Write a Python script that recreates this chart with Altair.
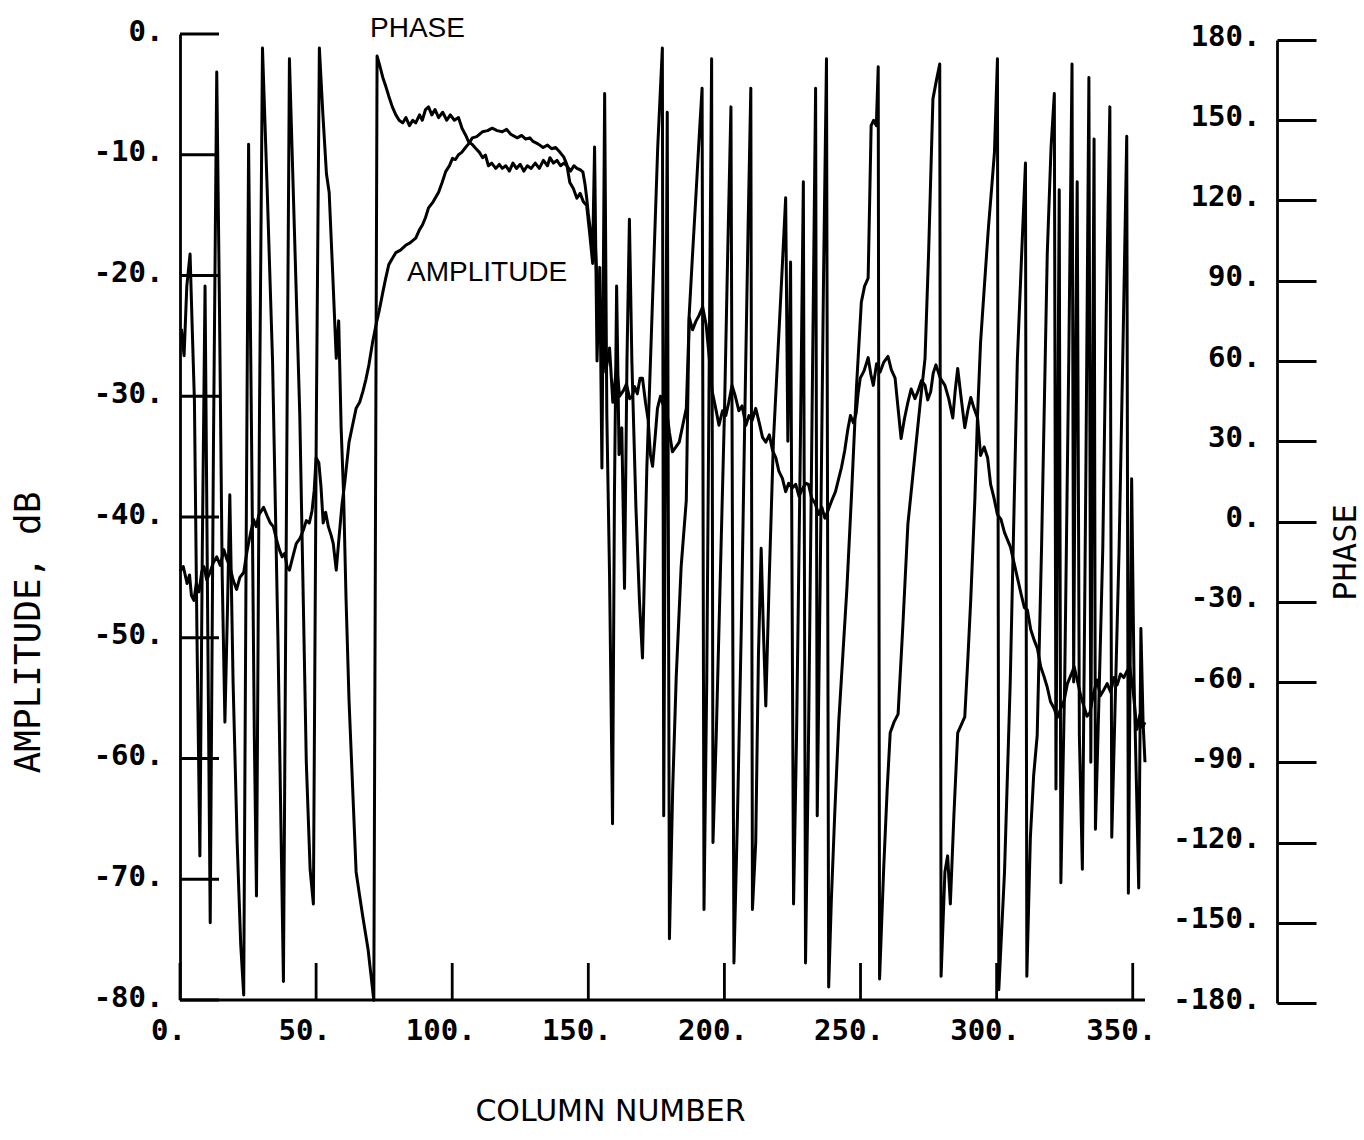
import altair as alt
import pandas as pd

# ---- amplitude trace (dB) against column number ----
amp_cols = [
    0, 1.2, 2.6, 3.5, 4.2, 5.1, 6, 7, 8, 8.8,
    9.8, 11, 12.2, 13.5, 14.8, 16.1, 17.2, 18.3, 19.5, 20.8,
    22, 23.4, 24.5, 25.5, 27, 28, 29, 30.7, 32, 33.2,
    34.3, 35.5, 36.5, 37.5, 38.5, 39.3, 40.2, 41.2, 42.7, 44,
    45.3, 46.4, 47.5, 48.5, 49.3, 50, 51, 51.8, 52.6, 53.5,
    54.5, 55.5, 56.3, 57.4, 58.5, 59.5, 60.5, 61.3, 62.1, 63.3,
    64.7, 66, 67.2, 68.3, 69.4, 70.7, 72, 73.2, 74.5, 75.5,
    76.7, 78, 79.3, 81, 82.9, 84.5, 86.6, 88, 89.1, 90.2,
    91.3, 93, 95, 96.3, 97.6, 99, 100.1, 101.2, 102.3, 103.5,
    104.9, 106, 107.4, 109, 111.1, 113, 114.7, 116.5, 118.4, 120,
    121.5, 123.9, 125.5, 127, 128.5, 129.7, 131.5, 133.4, 135, 136.5,
    138, 139.6, 141, 142.1, 143.2, 144.5, 145.8, 147, 148.2, 149.4,
    150.5, 151.6, 152.5, 153.5, 154.2, 155.3, 156.4, 157.8, 159, 160.4,
    161.5, 163, 164, 165.2, 166.2, 167, 168, 169, 169.9, 171,
    172, 172.8, 173.6, 174.5, 175.4, 176.5, 177.6, 178.7, 179.8, 180.9,
    182.2, 183.4, 184.7, 186, 187.1, 188.3, 189.5, 190.7, 192, 193.3,
    194.5, 195.5, 196.8, 198, 199.3, 200.5, 201.6, 202.8, 204, 205.3,
    206.5, 207.9, 209, 210.2, 211.5, 212.8, 214, 215.2, 216.5, 217.7,
    218.9, 220, 221.3, 222.5, 223.6, 224.9, 226.2, 227.4, 228.6, 229.8,
    230.9, 232, 233.4, 234.6, 235.8, 236.9, 238, 239.5, 240.8, 242,
    243, 244.2, 245.3, 246.3, 247.4, 248.4, 249.1, 249.9, 251.3, 252.8,
    253.8, 254.7, 255.9, 257.2, 258.5, 260.1, 261.3, 262.7, 263.8, 264.9,
    266.1, 267.4, 268.6, 270, 271.1, 272.4, 273.7, 274.7, 275.8, 276.7,
    277.7, 279.3, 281, 282.4, 283.9, 284.8, 285.7, 287, 288.3, 289.4,
    290.5, 291.7, 293, 294.1, 295.4, 296.7, 297.8, 299, 300.3, 301.6,
    302.9, 304, 305.1, 306.4, 307.6, 309, 310.2, 311.3, 312.5, 313.8,
    315, 316.2, 317.4, 318.6, 319.8, 321, 322.3, 323.5, 324.8, 326,
    327.3, 328.5, 329.7, 330.9, 332.1, 333.2, 334.3, 335.6, 336.9, 338.1,
    339.4, 340.6, 341.9, 343.1, 344.3, 345.5, 346.7, 347.8, 348.9, 350.2,
    351.5, 352.6, 353.6, 354.5,
]
amp_db = [
    -44.5, -44.1, -45.5, -44.8, -46.5, -46.9, -45.5, -46.2, -44.5, -44.1,
    -45.2, -44.6, -43.8, -43.3, -44, -42.7, -43.5, -44.1, -45.2, -46,
    -45, -44.6, -43, -41.8, -40.2, -40.8, -39.8, -39.2, -39.9, -40.5,
    -40.8, -41.9, -42.7, -43.3, -43, -44.1, -44.4, -43.5, -42.2, -41.8,
    -41.1, -40.3, -40.5, -39.5, -37.8, -35.1, -35.5, -37.5, -40.5, -39.6,
    -40.8, -41.5, -42.2, -44.4, -41.5, -39, -37.2, -35.5, -33.8, -32.5,
    -31, -30.5, -29.6, -28.6, -27.4, -25.6, -24.1, -22.9, -21.4, -20.3,
    -19.1, -18.6, -18.1, -17.9, -17.5, -17.3, -16.9, -16.2, -15.8, -15.2,
    -14.4, -13.9, -13.1, -12.3, -11.4, -10.9, -10.3, -10.4, -10, -9.8,
    -9.4, -9.1, -8.6, -8.5, -8.1, -8.0, -7.8, -8.0, -8.1, -7.9,
    -8.3, -8.6, -8.4, -8.7, -8.6, -8.9, -9.1, -9.4, -9.2, -9.5,
    -9.4, -9.8, -10.2, -10.8, -12.3, -12.8, -13.6, -13.2, -13.9, -14.2,
    -16.5, -19, -17, -22, -25, -22, -28, -26, -30.5, -27.5,
    -30, -29.5, -29, -30.2, -30, -29.2, -29.8, -28.5, -28.5, -30.5,
    -32, -34.8, -35.8, -33.5, -31, -30, -30.8, -31, -33, -34.6,
    -34.2, -33.8, -32.4, -31, -23.5, -24.5, -23.8, -23.3, -22.6, -24.1,
    -27, -29.6, -31, -32.4, -31.2, -31.6, -30.5, -29.1, -30, -31.2,
    -30.8, -32.4, -31.6, -32, -31, -32.2, -33.4, -33.8, -33.2, -34.5,
    -35.1, -36.2, -36.8, -37.9, -37.2, -37.6, -37.3, -38.3, -37.7, -37.2,
    -37.3, -38.4, -38.9, -39.8, -39.2, -40.1, -39.5, -38.6, -37.9, -36.8,
    -35.9, -34.5, -32.8, -31.6, -32.2, -31.4, -29.8, -28.5, -27.9, -26.8,
    -28.2, -29.1, -27.3, -28, -27.2, -26.7, -27.8, -28.5, -31, -33.5,
    -31.9, -30.5, -29.4, -30.2, -29.6, -28.7, -29.1, -30.3, -29.6, -28.1,
    -27.4, -28.5, -29.1, -30.2, -31.8, -29.5, -27.7, -30.2, -32.6, -31.2,
    -30.1, -31, -31.8, -34.9, -34.2, -35.1, -37.3, -38.4, -39.8, -40.2,
    -41.3, -41.9, -42.5, -43.8, -45, -46.4, -47.5, -47.7, -49.3, -50.2,
    -50.9, -52.4, -53.2, -54.1, -55.3, -55.8, -56.6, -55.9, -55.2, -53.8,
    -53.1, -52.4, -53.6, -54.8, -55.7, -56.5, -56.2, -54.6, -53.5, -54.8,
    -54.3, -53.8, -54.5, -53.3, -53.9, -53, -53.3, -52.8, -52.4, -54.5,
    -57.6, -56.4, -57.4, -57,
]

# ---- phase trace (degrees, wrapped to +/-180) against column number ----
phase_cols = [
    0.5, 1.5, 2.5, 3.7, 4.5, 5.3, 6.2, 7.3, 8.2, 9.2,
    10.2, 11.1, 12.3, 13.5, 14.5, 15.5, 16.5, 17.5, 18.3, 19.5,
    21, 22.3, 23.4, 24.3, 25.2, 26.4, 27.3, 28.1, 29.2, 30.3,
    32, 34, 36, 38, 39.2, 40.2, 42, 44, 45.3, 46.4,
    47.8, 49, 50.1, 51.2, 52.5, 53.8, 54.8, 56, 57.4, 58.3,
    59.2, 60.1, 61, 62.1, 63.6, 64.7, 66, 67.2, 69.1, 71.2,
    72.4, 73.5, 74.5, 75.5, 76.7, 78, 79.3, 80.5, 81.8, 83,
    84.3, 85.5, 86.6, 88, 89, 90.2, 91.3, 92.5, 93.7, 95,
    96.5, 98, 99.3, 100.8, 102.3, 103.6, 104.9, 106, 107.3, 108.5,
    110, 111.2, 112.2, 113.3, 114.5, 116, 117.3, 118.4, 119.7, 121,
    122.3, 123.6, 125, 126.3, 127.6, 129, 130.5, 132, 133.5, 135,
    135.9, 137.2, 138.5, 139.8, 141, 142.1, 143.5, 144.7, 145.8, 147,
    148, 148.8, 149.4, 150, 150.5, 151.6, 152.3, 153.2, 154.2, 155,
    156, 156.8, 157.8, 158.9, 159.6, 160.4, 161.3, 162.3, 163.3, 164.2,
    165.1, 166, 167.5, 168.8, 169.9, 171.5, 173.5, 175.5, 177.2, 177.7,
    178.4, 179, 179.8, 181, 182.3, 184.1, 186, 187, 188.3, 189.6,
    190.8, 191.8, 192.5, 193.5, 194.5, 195.3, 195.8, 197, 198.5, 200,
    201.2, 202.4, 203.5, 204.8, 206.2, 207.5, 208.7, 209.7, 210.3, 211.5,
    212.5, 213.5, 214.3, 215.2, 216.5, 218, 219.5, 221, 222.5, 223.3,
    224.3, 225.4, 226.5, 227.8, 229, 229.8, 230.8, 232.2, 233.5, 234.1,
    235.2, 236.4, 237.5, 238.3, 239.3, 240.5, 242, 243.5, 245, 246.6,
    248.5, 250.3, 251.5, 252.8, 253.9, 254.8, 255.8, 256.5, 257, 258.5,
    259.8, 260.9, 262.3, 263.8, 265.5, 267.4, 269, 270.5, 272, 273.7,
    275, 276.6, 277.9, 279.1, 279.6, 281, 282, 283, 284.3, 285.7,
    287, 288.3, 289.5, 290.5, 292, 293, 294.1, 295.5, 297, 298.2,
    299.2, 300.3, 300.8, 302.9, 305, 307.6, 309.2, 310.6, 311.1, 312.4,
    313.6, 314.9, 316.5, 318.6, 320, 321.2, 321.8, 322.5, 323, 323.6,
    325, 326.5, 327.7, 328.3, 329, 329.6, 330.4, 331.5, 332.8, 333.9,
    334.6, 335.2, 335.8, 336.3, 337.5, 339, 340.3, 341.6, 342.3, 343.5,
    345, 346.5, 347.8, 348.4, 349.6, 350.5, 351.4, 352.2, 353, 353.8,
    354.5,
]
phase_deg = [
    72, 62, 88, 100, 72, 45, -40, -125, -10, 88,
    -40, -150, 30, 168, 80, -20, -75, -30, 10, -60,
    -120, -158, -177, -10, 141, 20, -80, -140, 40, 177,
    125, 60, -45, -172, 20, 173, 110, 40, -30, -90,
    -130, -143, 40, 177, 152, 130, 123, 95, 61, 75,
    35, 10, -29, -67, -104, -131, -140, -148, -160, -179,
    174, 170, 166, 163, 159, 155, 152, 150, 149, 151,
    148, 150, 149, 152, 150, 154, 155, 152, 154, 151,
    153, 150, 152, 150, 151, 147, 144.5, 142, 141, 139.6,
    138, 136, 137, 133, 134, 132, 133.5, 132, 133, 131,
    134, 132, 133.5, 131, 133, 132, 134, 132, 135, 133,
    136, 134, 135, 133, 134, 133, 131, 133, 132, 131.5,
    130.7, 126, 121, 115, 111, 101, 140, 60, 95, 20,
    160, 40, -20, -113, 10, 88, 25, 35, -25, 60,
    113, 60, 5, -30, -51, 20, 80, 140, 177, -110,
    40, 153, -156, -100, -58, -17, 8, 76, 100, 123,
    145, 162, -145, -60, 70, 173, -120, -80, -20, 40,
    100, 155, -165, -110, -40, 40, 110, 162, -145, -120,
    -50, -10, -40, -69, -20, 30, 60, 90, 121, 30,
    97, -143, -80, 20, 127, -165, -90, 40, 162, -110,
    -20, 90, 173, -174, -141, -110, -75, -50, -25, 8,
    50, 82, 88, 91, 148, 150, 148, 170, -171, -130,
    -100, -79, -75, -72, -40, -1, 15, 30, 45, 61,
    100, 158, 165, 171, -170, -131, -125, -143, -110, -79,
    -76, -73, -50, -29, 8, 40, 67, 88, 110, 125,
    138, 173, -175, -131, -60, 60, 100, 134, -170, -118,
    -95, -80, -10, 100, 140, 160, -100, 40, 124, -135,
    -60, 60, 171, -60, 60, 127, -80, -130, 20, 166,
    -90, 40, 143, -115, -70, -10, 80, 155, -118, -70,
    -10, 70, 144, -139, 16, -60, -100, -137, -40, -75,
    -90,
]

# ---- axis tick positions ----
col_ticks = [0, 50, 100, 150, 200, 250, 300, 350]
amp_ticks = [-80, -70, -60, -50, -40, -30, -20, -10, 0]
phase_ticks = [-180, -150, -120, -90, -60, -30, 0, 30, 60, 90, 120, 150, 180]

# ---- curve labels ----
note_text = ["PHASE", "AMPLITUDE"]
note_col = [69.8, 83.4]
note_db = [0.4, -19.8]

W, H = 1097, 966
MONO = "DejaVu Sans Mono"
INK = "black"
PEN = 3.0
AXIS_PEN = 2.8

x_scale = alt.Scale(domain=[0, 403], nice=False, zero=False)
amp_scale = alt.Scale(domain=[-80, 0], nice=False, zero=False)
phase_scale = alt.Scale(domain=[-180, 180], range=[H + 3, 6], nice=False, zero=False)

dot_label = "datum.value + '.'"

x_axis = alt.Axis(
    values=col_ticks, labelExpr=dot_label, domain=False, ticks=False, grid=False,
    labelFont=MONO, labelFontSize=29, labelFontWeight="bold", labelColor=INK,
    labelPadding=16, labelOffset=-12, labelFlush=False, labelOverlap=False,
    title="COLUMN NUMBER", titleFont="DejaVu Sans", titleFontSize=30,
    titleFontWeight="normal", titleColor=INK, titleX=430, titleY=111,
    titleAlign="center", titleBaseline="middle",
)
amp_axis = alt.Axis(
    orient="left", values=amp_ticks, labelExpr=dot_label,
    domain=True, domainColor=INK, domainWidth=AXIS_PEN, ticks=False, tickSize=0, grid=False,
    labelFont=MONO, labelFontSize=29, labelFontWeight="bold", labelColor=INK,
    labelPadding=17, labelOffset=-3, labelFlush=False, labelOverlap=False,
    title="AMPLITUDE, dB", titleFont=MONO, titleFontSize=36, titleFontWeight="normal",
    titleColor=INK, titleAngle=270, titleX=-152, titleY=598,
    titleAlign="center", titleBaseline="middle",
)
phase_axis = alt.Axis(
    orient="right", values=phase_ticks, labelExpr=dot_label,
    domain=True, domainColor=INK, domainWidth=AXIS_PEN,
    ticks=True, tickSize=39, tickWidth=AXIS_PEN, tickColor=INK, grid=False,
    labelFont=MONO, labelFontSize=29, labelFontWeight="bold", labelColor=INK,
    labelPadding=-56, labelAlign="right", labelOffset=-4,
    labelFlush=False, labelOverlap=False,
    title="PHASE", titleFont=MONO, titleFontSize=32, titleFontWeight="normal",
    titleColor=INK, titleAngle=270, titleX=68, titleY=518,
    titleAlign="center", titleBaseline="middle",
)

X = alt.X("col:Q", scale=x_scale, axis=x_axis)

amp_df = pd.DataFrame({"col": amp_cols, "db": amp_db})
phase_df = pd.DataFrame({"col": phase_cols, "deg": phase_deg})

amp_line = alt.Chart(amp_df).mark_line(
    color=INK, strokeWidth=PEN, strokeJoin="round"
).encode(x=X, y=alt.Y("db:Q", scale=amp_scale, axis=amp_axis))

# inward-pointing ticks on the amplitude axis
left_ticks = alt.Chart(pd.DataFrame({"db": amp_ticks})).mark_rule(
    color=INK, strokeWidth=AXIS_PEN
).encode(
    y=alt.Y("db:Q", scale=amp_scale, axis=amp_axis),
    x=alt.value(0), x2=alt.value(39),
)

# upward ticks on the column axis
bottom_ticks = alt.Chart(pd.DataFrame({"col": col_ticks})).mark_rule(
    color=INK, strokeWidth=AXIS_PEN
).encode(x=X, y=alt.value(H), y2=alt.value(H - 37))

# column axis line, drawn across the sampled range only
last_col = max(amp_cols[-1], phase_cols[-1])
baseline = alt.Chart(
    pd.DataFrame({"col": [col_ticks[0]], "end": [last_col]})
).mark_rule(color=INK, strokeWidth=AXIS_PEN).encode(
    x=X, x2="end:Q", y=alt.value(H)
)

notes = alt.Chart(
    pd.DataFrame({"text": note_text, "col": note_col, "db": note_db})
).mark_text(
    font="Liberation Sans", fontSize=28, align="left", baseline="middle", color=INK
).encode(
    x=X, y=alt.Y("db:Q", scale=amp_scale, axis=amp_axis), text="text:N"
)

phase_line = alt.Chart(phase_df).mark_line(
    color=INK, strokeWidth=PEN, strokeJoin="round"
).encode(x=X, y=alt.Y("deg:Q", scale=phase_scale, axis=phase_axis))

chart = (
    alt.layer(
        alt.layer(amp_line, left_ticks, bottom_ticks, baseline, notes),
        phase_line,
    )
    .resolve_scale(y="independent")
    .properties(
        width=W, height=H,
        autosize=alt.AutoSizeParams(type="none"),
        padding={"left": 180, "top": 34, "right": 87, "bottom": 140},
    )
    .configure(background="white")
    .configure_view(stroke=None)
)

chart.save("out.html", embed_options={"renderer": "svg", "actions": False})
